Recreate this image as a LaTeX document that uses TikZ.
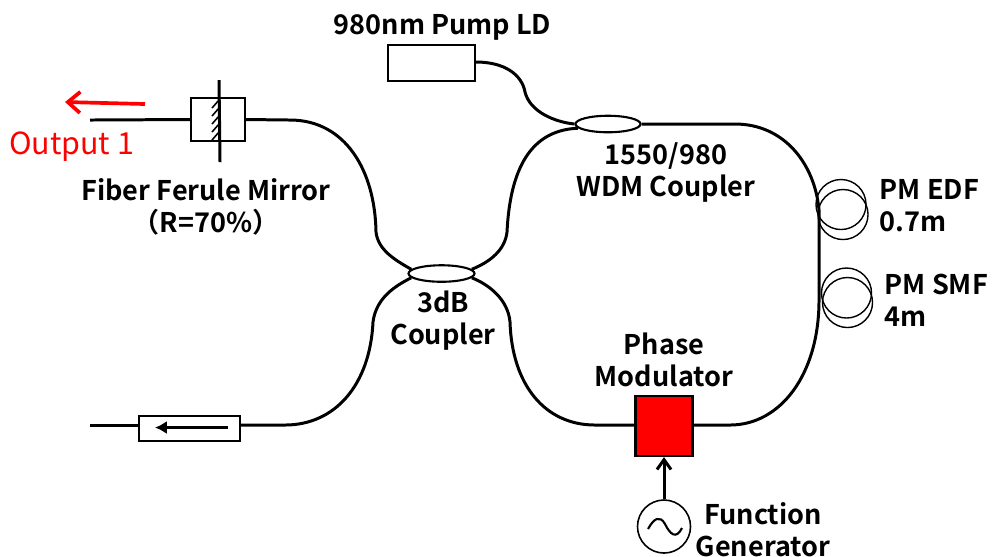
\documentclass[tikz,border=0pt]{standalone}
\usepackage{fontspec}
\setmainfont{Noto Sans CJK JP}[BoldFont={Noto Sans CJK JP Bold}]
\usetikzlibrary{arrows.meta,shapes.geometric}
\definecolor{outred}{HTML}{FF0000}
\tikzset{
  fiber/.style={black,line width=0.85pt},
  part/.style={draw=black,line width=0.6pt,fill=white,inner sep=0pt},
  splitter/.style={part,ellipse},
  coil/.style={draw=black,line width=0.4pt,circle,inner sep=0pt,minimum size=0.5cm},
  lab/.style={font=\bfseries\fontsize{7.7}{9.1}\selectfont,align=center,inner sep=0pt}
}
\begin{document}
\begin{tikzpicture}[x=0.01cm,y=-0.01cm]
  \useasboundingbox (0,0) rectangle (998,556);

  % Parts
  \node[part,minimum width=0.54cm,minimum height=0.43cm] (mirror) at (218,119.5) {};
  \node[part,minimum width=0.87cm,minimum height=0.36cm] (pump) at (431.5,63) {};
  \node[part,minimum width=1.01cm,minimum height=0.25cm] (isolator) at (189.5,428.5) {};
  \node[part,fill=outred,minimum width=0.57cm,minimum height=0.6cm] (modulator) at (664,426) {};
  \node[splitter,minimum width=0.66cm,minimum height=0.165cm] (coupler) at (441.5,273.5) {};
  \node[splitter,minimum width=0.65cm,minimum height=0.165cm] (wdm) at (608,124) {};
  \node[part,circle,line width=0.45pt,minimum size=0.53cm] (source) at (664,526.5) {};

  % Coils
  \node[coil] (edfa) at (841,204.5) {};
  \node[coil] (edfb) at (843,214.5) {};
  \node[coil] (smfa) at (846.5,293) {};
  \node[coil] (smfb) at (847.5,302.5) {};

  % Free ends
  \coordinate (outend) at (90,120);
  \coordinate (isoend) at (90,425);
  \coordinate (mirrortop) at (219,80);
  \coordinate (mirrorbot) at (220,162);
  \coordinate (redtail) at (145,104);
  \coordinate (redhead) at (65,102);

  % Fibers
  \draw[fiber] (outend) -- (mirror.west);
  \draw[fiber] (mirror.east) -- (290,120) .. controls (345,120) and (375,170) .. (376,232)
    .. controls (378,250) and (395,260) .. (coupler.172);
  \draw[fiber] (coupler.8) .. controls (490,262) and (505,250) .. (507,232)
    .. controls (510,170) and (530,130) .. (wdm.188);
  \draw[fiber] (pump.east |- 0,62) .. controls (505,62) and (522,75) .. (525,92)
    .. controls (530,112) and (555,122) .. (wdm.180);
  \draw[fiber] (wdm.east) -- (735,124) .. controls (785,124) and (815,165) .. (819,210)
    -- (819,300) .. controls (819,375) and (780,425) .. (730,425) -- (modulator.east |- 0,425);
  \draw[fiber] (modulator.west |- 0,425) -- (595,425) .. controls (545,425) and (512,385) .. (510,322)
    .. controls (508,300) and (490,285) .. (coupler.352);
  \draw[fiber] (coupler.188) .. controls (395,286) and (376,298) .. (373,322)
    .. controls (370,385) and (335,425) .. (285,425) -- (isolator.east |- 0,425);
  \draw[fiber] (isoend) -- (isolator.west |- 0,425);

  % Mirror
  \foreach \y in {100,108,...,132} {
    \draw[black,line width=0.45pt] (212,\y+8) -- (219,\y);
  }
  \draw[fiber] (mirrortop) -- (mirrorbot);

  % Isolator arrow
  \draw[fiber,-{Latex[length=3.4pt,width=3.8pt]}] (228,427.5) -- (155,427.5);

  % Drive
  \draw[fiber,-{Straight Barb[length=2.8pt,width=4pt]}] (source.north) -- (modulator.south);
  \draw[part,fill=none] (648,529) .. controls (654,518) and (660,515) .. (665,524)
    .. controls (670,534) and (676,540) .. (682,528);

  % Output
  \draw[outred,line width=1.05pt,-{Straight Barb[length=3.5pt,width=6pt]}] (redtail) -- (redhead);

  % Labels
  \node[lab,text=outred,font=\fontsize{8.65}{9}\selectfont] (outlabel) at (71.5,147) {Output 1};
  \node[lab] (mirrorlabel) at (206,207) {Fiber Ferule Mirror\\（R=70\%）};
  \node[lab] (pumplabel) at (442.5,27) {980nm Pump LD};
  \node[lab] (wdmlabel) at (666,172) {1550/980\\WDM Coupler};
  \node[lab] (couplerlabel) at (443,321) {3dB\\Coupler};
  \node[lab] (modlabel) at (664,360) {Phase\\Modulator};
  \node[lab] (genlabel) at (763,530) {Function\\Generator};
  \node[lab,align=left,anchor=west] (edflabel) at (879,206) {PM EDF\\0.7m};
  \node[lab,align=left,anchor=west] (smflabel) at (884,300) {PM SMF\\4m};
\end{tikzpicture}
\end{document}
